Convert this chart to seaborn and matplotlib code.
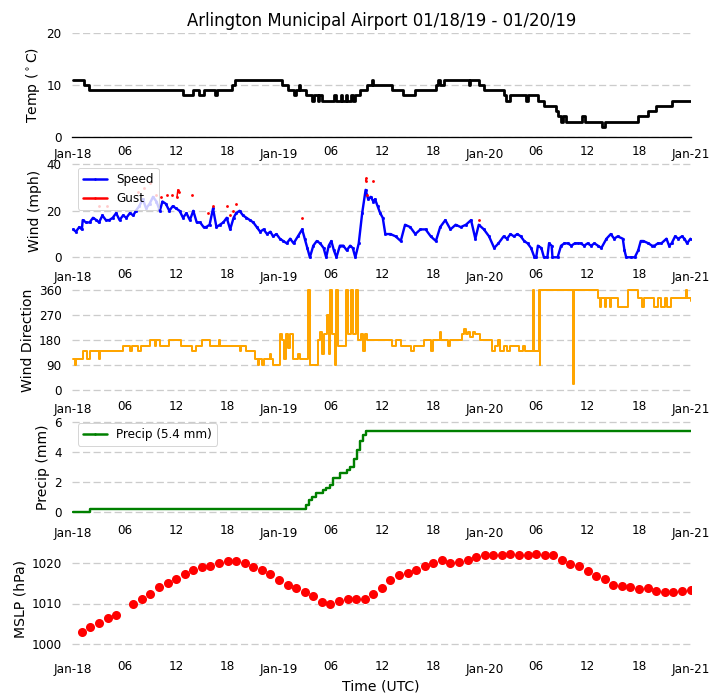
import numpy as np
import pandas as pd
import matplotlib
matplotlib.use("Agg")
import matplotlib.pyplot as plt
import matplotlib.dates as mdates
from matplotlib.lines import Line2D
import seaborn as sns

# ---------------- data (hours after 2019-01-18 00:00 UTC) ----------------
START = pd.Timestamp("2019-01-18 00:00")

temp_hours = [0, 1.3, 1.8, 12.8, 14.0, 14.7, 15.2, 16.5, 16.8, 18.5, 18.9, 24.3,
              25.0, 25.7, 26.0, 26.3, 26.5, 27.2, 27.9, 28.1, 28.5, 28.7, 29.0, 30.4,
              30.6, 31.2, 31.4, 31.8, 31.9, 32.4, 32.6, 32.9, 33.4, 34.3, 34.8, 35.0,
              37.2, 38.5, 39.9, 42.3, 42.6, 42.8, 43.2, 46.2, 46.3, 47.3, 47.9, 50.2,
              50.5, 51.0, 52.8, 53.0, 54.2, 54.9, 56.3, 56.6, 56.9, 57.1, 57.5, 59.3,
              59.7, 61.7, 62.0, 65.9, 67.1, 68.0, 69.8, 72.0]
temp_c = [11, 10, 9, 8, 9, 8, 9, 8, 9, 10, 11, 10,
          9, 8, 9, 10, 9, 8, 7, 8, 7, 8, 7, 8,
          7, 8, 7, 8, 7, 8, 7, 8, 9, 10, 11, 10,
          9, 8, 9, 10, 11, 10, 11, 10, 11, 10, 9, 8,
          7, 8, 7, 8, 7, 6, 5, 4, 3, 4, 3, 4,
          3, 2, 3, 4, 5, 6, 7, 7]

wind_hours = [0, 0.3, 0.7, 1.0, 1.1, 1.5, 1.9, 2.3, 2.7, 3.0, 3.4, 3.8,
              4.2, 4.6, 5.0, 5.4, 5.8, 6.2, 6.6, 7.0, 7.3, 7.7, 8.1, 8.5,
              8.9, 9.3, 9.7, 10.1, 10.4, 10.8, 11.2, 11.6, 12.0, 12.4, 12.8, 13.2,
              13.6, 14.0, 14.4, 14.8, 15.2, 15.5, 15.9, 16.3, 16.7, 17.1, 17.5, 17.9,
              18.3, 18.7, 19.0, 19.4, 19.8, 20.2, 20.6, 21.0, 21.4, 21.8, 22.2, 22.6,
              23.0, 23.3, 23.7, 24.1, 24.5, 24.9, 25.3, 25.7, 26.2, 26.7, 27.0, 27.3,
              27.6, 28.0, 28.4, 28.8, 29.2, 29.5, 29.8, 30.1, 30.4, 30.7, 31.1, 31.5,
              31.9, 32.3, 32.6, 32.9, 33.3, 33.7, 34.1, 34.4, 34.7, 35.0, 35.2, 35.5,
              35.8, 36.1, 36.4, 37.0, 37.6, 38.2, 38.7, 39.3, 39.9, 40.5, 41.1, 41.7,
              42.3, 42.8, 43.4, 44.0, 44.6, 45.2, 45.8, 46.4, 46.9, 47.3, 47.9, 48.5,
              49.1, 49.6, 50.2, 50.6, 51.0, 51.4, 51.8, 52.2, 52.6, 53.0, 53.4, 53.8,
              54.0, 54.2, 54.6, 54.9, 55.3, 55.5, 55.8, 55.9, 56.5, 56.9, 57.3, 57.7,
              58.1, 58.5, 58.9, 59.2, 59.6, 60.0, 60.4, 60.8, 61.2, 61.6, 62.2, 62.7,
              63.1, 63.5, 64.1, 64.3, 64.5, 65.1, 65.5, 65.9, 66.2, 66.5, 67.1, 67.5,
              67.8, 68.2, 68.6, 69.2, 69.5, 69.8, 70.2, 70.6, 71.0, 71.3, 71.6, 72.0]
wind_mph = [12, 11, 13, 12, 16, 15, 15, 17, 16, 15, 18, 16,
            16, 17, 19, 16, 18, 17, 19, 18, 20, 22, 25, 21,
            23, 26, 24, 20, 24, 23, 20, 22, 21, 20, 17, 19,
            16, 20, 15, 15, 13, 13, 14, 21, 13, 14, 15, 17,
            12, 17, 19, 20, 18, 17, 16, 15, 13, 11, 12, 10,
            11, 9, 10, 8, 7, 6, 8, 6, 9, 12, 8, 4,
            0, 5, 7, 6, 4, 0, 5, 7, 3, 0, 5, 5,
            3, 5, 4, 0, 6, 19, 29, 25, 26, 24, 25, 22,
            19, 17, 10, 10, 9, 7, 14, 13, 10, 12, 12, 9,
            7, 13, 16, 12, 14, 13, 14, 16, 8, 14, 12, 9,
            4, 6, 9, 8, 10, 9, 10, 9, 7, 6, 4, 0,
            0, 5, 4, 0, 0, 6, 5, 0, 0, 5, 6, 6,
            5, 6, 6, 6, 5, 6, 5, 6, 5, 4, 8, 10,
            8, 9, 8, 3, 0, 0, 0, 3, 7, 7, 6, 5,
            5, 6, 6, 8, 5, 6, 9, 8, 9, 8, 6, 8]

gust_hours = [3.0, 3.9, 7.5, 8.3, 8.9, 9.6, 10.2, 10.9, 11.5, 12.1, 12.2, 12.3,
              13.9, 15.7, 16.3, 17.9, 18.3, 18.6, 19.0, 26.7, 34.1, 34.2, 34.3, 35.0,
              47.3]
gust_mph = [22, 22, 28, 30, 32, 27, 26, 27, 27, 26, 29, 28,
            27, 19, 22, 22, 18, 20, 23, 17, 33, 34, 27, 33,
            16]
gust_group = [1, 2, 3, 4, 5, 6, 7, 8, 9, 10, 10, 10,
              11, 12, 13, 14, 15, 16, 17, 18, 19, 19, 20, 21,
              22]

dir_hours = [0.0, 0.2, 0.3, 1.1, 1.6, 2.0, 3.0, 3.1, 5.8, 6.6, 6.8, 7.6,
             7.9, 8.9, 9.5, 9.6, 10.1, 11.2, 12.6, 13.8, 14.3, 15.0, 15.9, 17.0,
             17.1, 19.4, 19.6, 20.2, 21.2, 21.5, 21.7, 22.0, 22.2, 22.9, 23.1, 23.3,
             24.1, 24.3, 24.6, 24.8, 25.1, 25.3, 25.6, 26.2, 26.5, 27.4, 27.6, 28.6,
             28.8, 29.0, 29.3, 29.6, 29.8, 30.0, 30.2, 30.5, 30.7, 30.9, 31.8, 32.0,
             32.4, 32.6, 33.0, 33.2, 33.6, 33.8, 34.0, 34.3, 37.2, 37.6, 38.2, 39.4,
             39.7, 40.9, 41.7, 42.0, 42.8, 42.9, 43.7, 44.0, 45.4, 45.6, 45.8, 46.0,
             46.3, 46.6, 46.9, 47.5, 48.9, 49.2, 49.5, 49.8, 50.2, 50.6, 50.9, 52.0,
             52.5, 52.7, 53.6, 53.8, 54.3, 54.4, 54.5, 58.3, 58.4, 61.2, 61.5, 61.6,
             62.0, 62.1, 62.6, 62.7, 63.6, 64.7, 65.9, 66.4, 66.6, 67.8, 68.2, 68.6,
             69.0, 69.3, 69.7, 71.5, 71.6, 72.0]
dir_deg = [110, 90, 110, 140, 110, 140, 110, 140, 160, 140, 160, 140,
           160, 180, 160, 180, 160, 180, 160, 140, 160, 180, 160, 180,
           160, 140, 160, 140, 110, 90, 110, 90, 110, 130, 110, 90,
           200, 180, 110, 200, 150, 200, 110, 130, 110, 360, 90, 180,
           210, 130, 200, 270, 130, 360, 200, 90, 360, 160, 360, 200,
           360, 200, 360, 180, 200, 140, 200, 180, 160, 180, 160, 140,
           160, 180, 140, 180, 210, 180, 160, 180, 200, 220, 200, 210,
           190, 210, 200, 180, 140, 160, 180, 140, 160, 140, 160, 140,
           160, 140, 360, 140, 360, 90, 360, 20, 360, 330, 300, 330,
           300, 330, 300, 330, 300, 360, 330, 300, 330, 300, 330, 300,
           330, 300, 330, 360, 330, 320]

precip_hours = [0, 1.9, 27.2, 27.5, 27.9, 28.3, 28.7, 29.1, 29.5, 29.9, 30.3, 30.9,
                31.1, 31.5, 31.9, 32.3, 32.7, 33.1, 33.5, 33.8, 34.1, 72.0]
precip_mm = [0, 0.25, 0.5, 0.8, 1.0, 1.3, 1.3, 1.5, 1.6, 1.8, 2.3, 2.3,
             2.6, 2.6, 2.8, 3.0, 3.5, 4.1, 4.7, 5.1, 5.4, 5.4]

mslp_hours = [1, 2, 3, 4, 5, 7, 8, 9, 10, 11, 12, 13,
              14, 15, 16, 17, 18, 19, 20, 21, 22, 23, 24, 25,
              26, 27, 28, 29, 30, 31, 32, 33, 34, 35, 36, 37,
              38, 39, 40, 41, 42, 43, 44, 45, 46, 47, 48, 49,
              50, 51, 52, 53, 54, 55, 56, 57, 58, 59, 60, 61,
              62, 63, 64, 65, 66, 67, 68, 69, 70, 71, 72]
mslp_hpa = [1002.9, 1004.3, 1005.3, 1006.5, 1007.3, 1009.8, 1011.0, 1012.4, 1014.1, 1015.1, 1016.0, 1017.2,
            1018.3, 1019.0, 1019.3, 1020.0, 1020.4, 1020.4, 1020.0, 1018.9, 1018.3, 1017.3, 1015.7, 1014.6,
            1013.7, 1012.7, 1011.9, 1010.4, 1009.8, 1010.6, 1011.2, 1011.2, 1011.2, 1012.4, 1013.8, 1015.7,
            1016.9, 1017.5, 1018.1, 1019.1, 1020.0, 1020.6, 1020.0, 1020.2, 1020.7, 1021.4, 1021.8, 1021.8,
            1021.8, 1022.2, 1022.0, 1022.0, 1022.2, 1022.0, 1021.8, 1020.7, 1019.8, 1019.1, 1017.9, 1016.7,
            1015.9, 1014.6, 1014.3, 1014.1, 1013.5, 1013.8, 1013.1, 1012.8, 1012.8, 1013.0, 1013.3]

precip_total = 5.4
title = "Arlington Municipal Airport 01/18/19 - 01/20/19"


def times(hours):
    return START + pd.to_timedelta(np.asarray(hours, dtype=float), unit="h")


temp_df = pd.DataFrame({"time": times(temp_hours), "temp": temp_c})
wind_df = pd.DataFrame({"time": times(wind_hours), "speed": wind_mph})
gust_df = pd.DataFrame({"time": times(gust_hours), "gust": gust_mph, "grp": gust_group})
dir_df = pd.DataFrame({"time": times(dir_hours), "dir": dir_deg})
precip_df = pd.DataFrame({"time": times(precip_hours), "precip": precip_mm})
mslp_df = pd.DataFrame({"time": times(mslp_hours), "mslp": mslp_hpa})

# ---------------- style ----------------
sns.set_style("whitegrid")
plt.rcParams["font.family"] = ["DejaVu Sans"]
for key in ["text.color", "axes.labelcolor", "xtick.color", "ytick.color"]:
    plt.rcParams[key] = "black"

W, H, DPI = 719, 700, 72
fig = plt.figure(figsize=(W / DPI, H / DPI), dpi=DPI)

X_LEFT, X_RIGHT = 72.0, 690.5


def make_axes(lo, hi, v_top, px_top, v_bot, px_bot):
    scale = (px_bot - px_top) / (v_top - v_bot)
    p_hi = px_top - (hi - v_top) * scale
    p_lo = px_bot + (v_bot - lo) * scale
    ax = fig.add_axes([X_LEFT / W, 1 - p_lo / H, (X_RIGHT - X_LEFT) / W, (p_lo - p_hi) / H])
    ax.set_ylim(lo, hi)
    return ax


ax_t = make_axes(0, 20, 20, 32.7, 0, 137.2)
ax_w = make_axes(-1.5, 41, 40, 164.3, 0, 257.3)
ax_d = make_axes(-10, 370, 360, 290.0, 0, 390.0)
ax_p = make_axes(-0.3, 6.3, 6, 421.7, 0, 512.3)
ax_m = make_axes(998, 1024, 1020, 562.7, 1000, 644.3)

sns.lineplot(data=temp_df, x="time", y="temp", ax=ax_t, color="black", lw=2.8,
             drawstyle="steps-post", estimator=None, sort=False)
sns.lineplot(data=wind_df, x="time", y="speed", ax=ax_w, color="blue", lw=2.4,
             marker=".", markersize=4.5, markeredgecolor="blue", estimator=None, sort=False)
sns.lineplot(data=gust_df, x="time", y="gust", units="grp", ax=ax_w, color="red", lw=1.5,
             marker=".", markersize=4, markeredgecolor="red", estimator=None, sort=False)
sns.lineplot(data=dir_df, x="time", y="dir", ax=ax_d, color="orange", lw=2.0,
             drawstyle="steps-post", estimator=None, sort=False)
sns.lineplot(data=precip_df, x="time", y="precip", ax=ax_p, color="green", lw=2.4,
             drawstyle="steps-post", estimator=None, sort=False)
sns.scatterplot(data=mslp_df, x="time", y="mslp", ax=ax_m, color="red", s=82, linewidth=0)

ax_t.set_yticks([0, 10, 20])
ax_w.set_yticks([0, 20, 40])
ax_d.set_yticks([0, 90, 180, 270, 360])
ax_p.set_yticks([0, 2, 4, 6])
ax_m.set_yticks([1000, 1010, 1020])

ax_t.set_ylabel(r"Temp ($^\circ$C)", fontsize=14)
ax_w.set_ylabel("Wind (mph)", fontsize=14)
ax_d.set_ylabel("Wind Direction", fontsize=14)
ax_p.set_ylabel("Precip (mm)", fontsize=14)
ax_m.set_ylabel("MSLP (hPa)", fontsize=14)
ax_m.set_xlabel("Time (UTC)", fontsize=14)
ax_t.set_title(title, fontsize=16.5, pad=7, color="black")

xmin = START - pd.Timedelta(hours=0.15)
xmax = START + pd.Timedelta(hours=72)
grid_ls = (0, (5.5, 2.6))
for ax in [ax_t, ax_w, ax_d, ax_p, ax_m]:
    ax.set_xlim(xmin, xmax)
    ax.xaxis.set_major_locator(mdates.DayLocator())
    ax.xaxis.set_major_formatter(mdates.DateFormatter("%b-%d"))
    ax.xaxis.set_minor_locator(mdates.HourLocator(byhour=[6, 12, 18]))
    ax.xaxis.set_minor_formatter(mdates.DateFormatter("%H"))
    ax.tick_params(axis="x", which="major", length=0, pad=10.5, labelsize=12, labelcolor="black")
    ax.tick_params(axis="x", which="minor", length=0, pad=7.5, labelsize=12, labelcolor="black")
    ax.tick_params(axis="y", length=0, pad=10.5, labelsize=12, labelcolor="black")
    ax.xaxis.grid(False, which="both")
    ax.yaxis.grid(True, linestyle=grid_ls, color="#cccccc", linewidth=1.3)
    for sp in ax.spines.values():
        sp.set_visible(False)
    if ax is not ax_m:
        ax.set_xlabel("")

ax_t.spines["bottom"].set_visible(True)
ax_t.spines["bottom"].set_color("black")
ax_t.spines["bottom"].set_linewidth(1.3)

leg_w = ax_w.legend(handles=[Line2D([], [], color="blue", lw=2.5, marker=".", markersize=3),
                             Line2D([], [], color="red", lw=2.5, marker=".", markersize=3)],
                    labels=["Speed", "Gust"], loc="upper left", fontsize=12, framealpha=0.8)
leg_p = ax_p.legend(handles=[Line2D([], [], color="green", lw=2.5, marker=".", markersize=3)],
                    labels=[f"Precip ({precip_total} mm)"], loc="upper left", fontsize=12,
                    framealpha=0.8)
for leg in (leg_w, leg_p):
    for txt in leg.get_texts():
        txt.set_color("black")

fig.savefig("out.png", dpi=DPI)
